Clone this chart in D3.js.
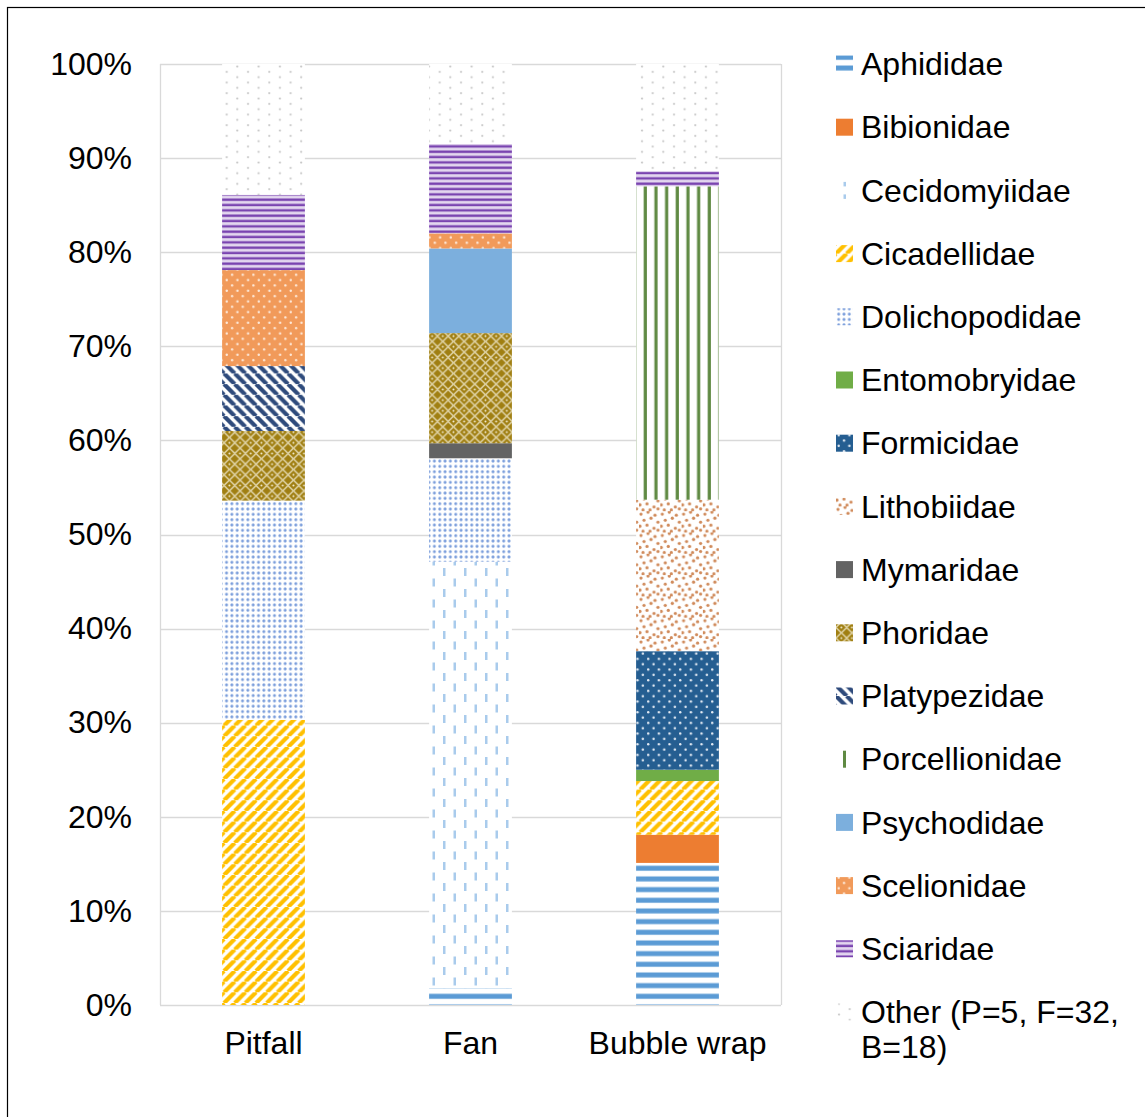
<!DOCTYPE html>
<html>
<head>
<meta charset="utf-8">
<script src="https://cdn.jsdelivr.net/npm/d3@7"></script>
<style>
  body { margin: 0; background: #fff; }
  svg text { font-family: "Liberation Sans", Arial, sans-serif; fill: #000; }
</style>
</head>
<body>
<svg id="chart" width="1145" height="1117"></svg>
<script>
// Data (percent of each trap type)
const categories = ["Pitfall", "Fan", "Bubble wrap"];
const families = ["Aphididae", "Bibionidae", "Cecidomyiidae", "Cicadellidae", "Dolichopodidae",
  "Entomobryidae", "Formicidae", "Lithobiidae", "Mymaridae", "Phoridae", "Platypezidae",
  "Porcellionidae", "Psychodidae", "Scelionidae", "Sciaridae", "Other"];
const aphididae      = [0, 1.8, 15.1];
const bibionidae     = [0, 0, 3.0];
const cecidomyiidae  = [0, 45.3, 0];
const cicadellidae   = [30.3, 0, 5.7];
const dolichopodidae = [23.3, 11.0, 0];
const entomobryidae  = [0, 0, 1.2];
const formicidae     = [0, 0, 12.6];
const lithobiidae    = [0, 0, 16.1];
const mymaridae      = [0, 1.6, 0];
const phoridae       = [7.4, 11.7, 0];
const platypezidae   = [6.9, 0, 0];
const porcellionidae = [0, 0, 33.3];
const psychodidae    = [0, 9.0, 0];
const scelionidae    = [10.2, 1.6, 0];
const sciaridae      = [8.0, 9.5, 1.6];
const other          = [13.9, 8.5, 11.4];
const yTicks = [0, 10, 20, 30, 40, 50, 60, 70, 80, 90, 100];

const seriesValues = [aphididae, bibionidae, cecidomyiidae, cicadellidae, dolichopodidae,
  entomobryidae, formicidae, lithobiidae, mymaridae, phoridae, platypezidae,
  porcellionidae, psychodidae, scelionidae, sciaridae, other];

const table = categories.map((c, i) => {
  const row = { cat: c };
  families.forEach((f, j) => row[f] = seriesValues[j][i]);
  return row;
});

const svg = d3.select("#chart");
const defs = svg.append("defs");
const FONT = 32;

// Patterns
// --------
const T = 10.67;
function pat(id, w, h, build) {
  const p = defs.append("pattern").attr("id", id)
    .attr("patternUnits", "userSpaceOnUse").attr("width", w).attr("height", h);
  build(p);
}
pat("p-aphid", T, T, p => {
  p.append("rect").attr("width", T).attr("height", T).attr("fill", "#fff");
  p.append("rect").attr("y", 1.5).attr("width", T).attr("height", 5).attr("fill", "#5b9bd5");
});
pat("p-bibio", T, T, p => p.append("rect").attr("width", T).attr("height", T).attr("fill", "#ed7d31"));
pat("p-cecid", 21, 21, p => {
  p.append("rect").attr("width", 21).attr("height", 21).attr("fill", "#fff");
  p.append("rect").attr("x", 2).attr("y", 1).attr("width", 2.5).attr("height", 8).attr("fill", "#a9cbec");
  p.append("rect").attr("x", 12.5).attr("y", 11.5).attr("width", 2.5).attr("height", 8).attr("fill", "#a9cbec");
});
pat("p-cecid-lg", 17, 17, p => {
  p.append("rect").attr("width", 17).attr("height", 17).attr("fill", "#fff");
  p.append("rect").attr("x", 7.5).attr("y", 4).attr("width", 2.5).attr("height", 9).attr("fill", "#a9cbec");
});
pat("p-cicad", T, T, p => {
  p.append("rect").attr("width", T).attr("height", T).attr("fill", "#fff");
  p.append("path").attr("d", `M${-T},${T} L0,0 M0,${T} L${T},0 M${T},${T} L${2*T},0`)
    .attr("stroke", "#ffc000").attr("stroke-width", 4.2);
});
pat("p-dolich", 5.33, 5.33, p => {
  p.append("rect").attr("width", 5.33).attr("height", 5.33).attr("fill", "#fff");
  p.append("circle").attr("cx", 2.67).attr("cy", 2.67).attr("r", 1.5).attr("fill", "#7d9fdc");
});
pat("p-ento", T, T, p => p.append("rect").attr("width", T).attr("height", T).attr("fill", "#70ad47"));
pat("p-formic", T, T, p => {
  p.append("rect").attr("width", T).attr("height", T).attr("fill", "#255e91");
  p.append("circle").attr("cx", 2.7).attr("cy", 2.7).attr("r", 1.2).attr("fill", "#e8eef6");
  p.append("circle").attr("cx", 8).attr("cy", 8).attr("r", 1.2).attr("fill", "#e8eef6");
});
pat("p-litho", 21.3, 21.3, p => {
  p.append("rect").attr("width", 21.3).attr("height", 21.3).attr("fill", "#fff");
  [[2, 3], [9, 1], [16, 4], [5, 9], [12, 7], [19, 11], [1, 15], [8, 14], [15, 17], [11, 20], [4, 20], [19, 19]]
    .forEach(([x, y]) => p.append("circle").attr("cx", x).attr("cy", y).attr("r", 1.6).attr("fill", "#d08a5a"));
});
pat("p-mymar", T, T, p => p.append("rect").attr("width", T).attr("height", T).attr("fill", "#636363"));
pat("p-phor", T, T, p => {
  p.append("rect").attr("width", T).attr("height", T).attr("fill", "#a07f12");
  const h = T / 2;
  p.append("path").attr("d", `M${h},0 L${T},${h} L${h},${T} L0,${h} Z`)
    .attr("fill", "none").attr("stroke", "#ddd0a0").attr("stroke-width", 1.6);
  p.append("circle").attr("cx", h).attr("cy", h).attr("r", 1).attr("fill", "#f3ecd2");
});
pat("p-platy", T, T, p => {
  p.append("rect").attr("width", T).attr("height", T).attr("fill", "#fff");
  p.append("path").attr("d", `M${-T},0 L0,${T} M0,0 L${T},${T} M${T},0 L${2*T},${T}`)
    .attr("stroke", "#2f4b7c").attr("stroke-width", 4.2);
});
pat("p-porc", T, T, p => {
  p.append("rect").attr("width", T).attr("height", T).attr("fill", "#fff");
  p.append("rect").attr("x", 3.5).attr("width", 3.2).attr("height", T).attr("fill", "#5f8a43");
});
pat("p-porc-lg", 17, 17, p => {
  p.append("rect").attr("width", 17).attr("height", 17).attr("fill", "#fff");
  p.append("rect").attr("x", 7).attr("width", 3).attr("height", 17).attr("fill", "#5f8a43");
});
pat("p-psych", T, T, p => p.append("rect").attr("width", T).attr("height", T).attr("fill", "#7cafdd"));
pat("p-scel", T, T, p => {
  p.append("rect").attr("width", T).attr("height", T).attr("fill", "#f19a5a");
  p.append("circle").attr("cx", 2.7).attr("cy", 2.7).attr("r", 1.2).attr("fill", "#fde9d9");
  p.append("circle").attr("cx", 8).attr("cy", 8).attr("r", 1.2).attr("fill", "#fde9d9");
});
pat("p-sciar", 5.33, 5.33, p => {
  p.append("rect").attr("width", 5.33).attr("height", 5.33).attr("fill", "#e3d6ef");
  p.append("rect").attr("y", 1.3).attr("width", 5.33).attr("height", 2.4).attr("fill", "#7a44b0");
});
pat("p-other", 21.3, 10.67, p => {
  p.append("rect").attr("width", 21.3).attr("height", 10.67).attr("fill", "#fff");
  p.append("circle").attr("cx", 3).attr("cy", 2.5).attr("r", 1.1).attr("fill", "#c8c8c8");
  p.append("circle").attr("cx", 13.7).attr("cy", 7.8).attr("r", 1.1).attr("fill", "#c8c8c8");
});
const patternIds = ["p-aphid", "p-bibio", "p-cecid", "p-cicad", "p-dolich", "p-ento", "p-formic",
  "p-litho", "p-mymar", "p-phor", "p-platy", "p-porc", "p-psych", "p-scel", "p-sciar", "p-other"];
const fillOf = d3.scaleOrdinal().domain(families).range(patternIds.map(id => `url(#${id})`));
const legendFill = d => d === "Cecidomyiidae" ? "url(#p-cecid-lg)"
  : d === "Porcellionidae" ? "url(#p-porc-lg)" : fillOf(d);

// Frame (right and bottom edges fall outside the picture)
svg.append("rect").attr("x", 7.5).attr("y", 7.5).attr("width", 1145).attr("height", 1120)
  .attr("fill", "none").attr("stroke", "#000").attr("stroke-width", 1.2);

// Scales
const plot = { left: 160, right: 781, top: 64, bottom: 1005 };
const x = d3.scaleBand().domain(categories).range([plot.left, plot.right])
  .paddingInner(0.6).paddingOuter(0.3);
const y = d3.scaleLinear().domain([0, 100]).range([plot.bottom, plot.top]);

// Gridlines
svg.append("g").selectAll("line").data(yTicks).join("line")
  .attr("x1", plot.left).attr("x2", plot.right)
  .attr("y1", d => Math.round(y(d)) + 0.5).attr("y2", d => Math.round(y(d)) + 0.5)
  .attr("stroke", "#d9d9d9").attr("stroke-width", 1.3);
[plot.left, plot.right].forEach(px => svg.append("line")
  .attr("x1", px + 0.5).attr("x2", px + 0.5).attr("y1", plot.top).attr("y2", plot.bottom)
  .attr("stroke", "#d9d9d9").attr("stroke-width", 1.3));

// Y axis labels
const yAxis = d3.axisLeft(y).tickValues(yTicks).tickFormat(d => d + "%").tickSize(0).tickPadding(28);
svg.append("g").attr("transform", `translate(${plot.left},0)`).call(yAxis)
  .call(g => g.select(".domain").remove())
  .call(g => g.selectAll("text").attr("font-size", FONT).attr("fill", "#000")
    .attr("font-family", "Liberation Sans, Arial, sans-serif"));

// X axis labels
const xAxis = d3.axisBottom(x).tickSize(0).tickPadding(26);
svg.append("g").attr("transform", `translate(0,${plot.bottom})`).call(xAxis)
  .call(g => g.select(".domain").remove())
  .call(g => g.selectAll("text").attr("font-size", FONT).attr("fill", "#000")
    .attr("font-family", "Liberation Sans, Arial, sans-serif"));

// Stacked bars
const stacked = d3.stack().keys(families)(table);
svg.append("g").selectAll("g").data(stacked).join("g")
  .attr("fill", d => fillOf(d.key))
  .selectAll("rect").data(d => d.filter(s => s[1] - s[0] > 0)).join("rect")
  .attr("x", d => x(d.data.cat))
  .attr("width", x.bandwidth())
  .attr("y", d => y(d[1]))
  .attr("height", d => y(d[0]) - y(d[1]));

// Legend
const legendTop = 64, legendStep = 63.2;
const lg = svg.append("g").selectAll("g").data(families).join("g")
  .attr("transform", (d, i) => `translate(836,${legendTop + i * legendStep})`);
lg.append("rect").attr("x", 0).attr("y", -8.5).attr("width", 17).attr("height", 17)
  .attr("fill", d => legendFill(d));
lg.append("text").attr("x", 25).attr("dy", "0.35em").attr("font-size", FONT)
  .text(d => d === "Other" ? "Other (P=5, F=32," : d);
lg.filter(d => d === "Other").append("text").attr("x", 25).attr("y", 35).attr("dy", "0.35em")
  .attr("font-size", FONT).text("B=18)");
</script>
</body>
</html>
